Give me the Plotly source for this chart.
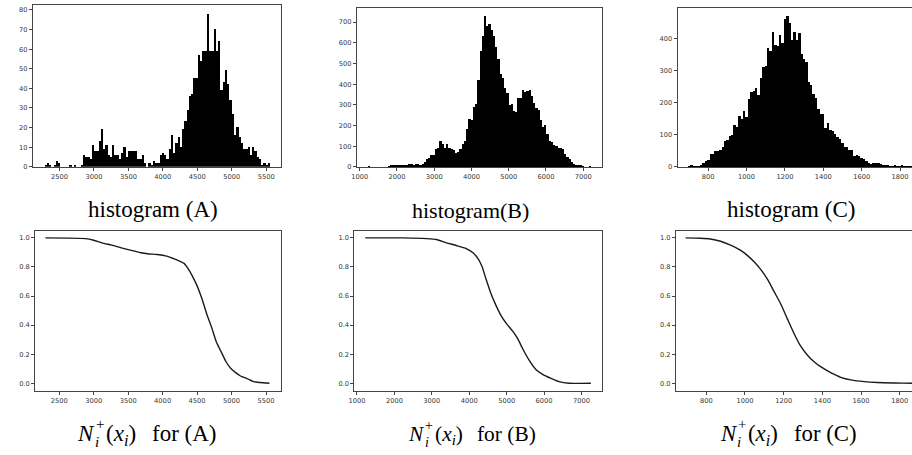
import numpy as np
import plotly.graph_objects as go

# ---------------- data ----------------
# histogram (A): 100 bins between hist_a_min and hist_a_max
hist_a_min, hist_a_max = 2279, 5554
hist_a_counts = [1, 2, 1, 0, 1, 3, 2, 0, 0, 0,
                 0, 1, 0, 1, 0, 0, 1, 6, 5, 5,
                 4, 11, 8, 8, 13, 19, 9, 11, 6, 5,
                 11, 6, 6, 4, 7, 10, 5, 8, 8, 8,
                 8, 4, 4, 6, 2, 0, 2, 1, 3, 2,
                 2, 6, 7, 6, 4, 9, 16, 7, 12, 15,
                 10, 19, 23, 29, 36, 37, 45, 45, 57, 54,
                 59, 59, 78, 59, 59, 70, 59, 64, 39, 43,
                 49, 42, 34, 27, 16, 20, 15, 12, 9, 9,
                 10, 6, 10, 8, 5, 4, 1, 2, 1, 2]

# histogram (B)
hist_b_min, hist_b_max = 1225, 7210
hist_b_counts = [1, 0, 0, 0, 0, 0, 0, 0, 0, 3,
                 5, 8, 4, 4, 6, 5, 4, 10, 12, 11,
                 9, 14, 13, 10, 12, 25, 38, 40, 55, 58,
                 85, 90, 122, 110, 88, 108, 88, 85, 82, 65,
                 72, 85, 110, 125, 180, 230, 225, 290, 305, 420,
                 560, 630, 730, 680, 690, 660, 630, 580, 520, 450,
                 430, 380, 355, 300, 305, 270, 265, 330, 330, 370,
                 360, 365, 370, 340, 310, 285, 275, 225, 190, 200,
                 160, 125, 120, 105, 98, 90, 88, 85, 60, 45,
                 35, 22, 15, 10, 9, 8, 1, 0, 0, 1]

# histogram (C)
hist_c_min, hist_c_max = 693, 1940
hist_c_counts = [2, 3, 2, 2, 2, 3, 12, 18, 22, 38,
                 40, 50, 50, 52, 62, 80, 82, 95, 100, 130,
                 125, 158, 150, 172, 155, 210, 232, 235, 245, 222,
                 275, 310, 312, 370, 360, 420, 380, 375, 410, 385,
                 460, 470, 448, 395, 420, 395, 415, 350, 335, 325,
                 265, 255, 225, 215, 180, 165, 165, 120, 135, 115,
                 110, 102, 92, 85, 75, 62, 62, 52, 52, 33,
                 37, 33, 28, 25, 18, 11, 8, 10, 12, 11,
                 8, 6, 4, 3, 2, 1, 3, 2, 1, 3,
                 2, 1, 1, 1, 0, 1, 0, 0, 0, 1]

# N_i^+(x_i) curves
curve_a_x = [2300, 2880, 3000, 3118, 3260, 3400, 3545, 3685, 3780, 3920,
             4060, 4150, 4245, 4315, 4360, 4430, 4500, 4572, 4640, 4710,
             4780, 4850, 4920, 4990, 5060, 5130, 5225, 5320, 5410, 5550]
curve_a_y = [1.0, 0.995, 0.984, 0.966, 0.95, 0.932, 0.914, 0.898, 0.891, 0.886,
             0.875, 0.859, 0.84, 0.823, 0.795, 0.739, 0.67, 0.58, 0.477, 0.386,
             0.284, 0.216, 0.148, 0.102, 0.073, 0.05, 0.032, 0.011, 0.005, 0.0]

curve_b_x = [1221, 2240, 2860, 3125, 3390, 3655, 3920, 4100, 4230, 4336,
             4450, 4585, 4717, 4850, 5000, 5160, 5295, 5425, 5600, 5780,
             5960, 6180, 6400, 6665, 7250]
curve_b_y = [1.0, 1.0, 0.995, 0.989, 0.966, 0.948, 0.927, 0.898, 0.859, 0.807,
             0.716, 0.614, 0.534, 0.466, 0.409, 0.359, 0.307, 0.239, 0.159, 0.095,
             0.061, 0.034, 0.011, 0.0, 0.0]

curve_c_x = [693, 771, 822, 874, 926, 978, 1012, 1047, 1081, 1116,
             1150, 1185, 1219, 1254, 1288, 1323, 1357, 1391, 1443, 1495,
             1547, 1616, 1684, 1770, 1867, 1940]
curve_c_y = [1.0, 0.998, 0.993, 0.977, 0.95, 0.914, 0.88, 0.836, 0.784, 0.716,
             0.632, 0.545, 0.443, 0.341, 0.255, 0.193, 0.148, 0.114, 0.073, 0.041,
             0.023, 0.011, 0.005, 0.002, 0.0, 0.0]

top_titles = ["histogram (A)", "histogram(B)", "histogram (C)"]
bottom_labels = ["(A)", "(B)", "(C)"]

# ---------------- figure ----------------
W, H = 912, 455


def fx(px):
    return px / W


def fy(py):
    return 1 - py / H


fig = go.Figure()

line_col = "#444444"
tick_font = dict(family="DejaVu Sans", size=6.7, color="#333333")

panels_top = [
    (hist_a_min, hist_a_max, hist_a_counts, (27, 277.3), (5.3, 168.3), [2112, 5722], [0, 82.4], 10, 500),
    (hist_b_min, hist_b_max, hist_b_counts, (353.3, 600), (8.3, 168.4), [928, 7507], [0, 767], 100, 1000),
    (hist_c_min, hist_c_max, hist_c_counts, (676, 912), (8.3, 168.4), [641, 1862], [0, 494], 100, 200),
]
panels_bot = [
    (curve_a_x, curve_a_y, (29.3, 277), [2150, 5720], 500),
    (curve_b_x, curve_b_y, (350.7, 600), [931, 7549], 1000),
    (curve_c_x, curve_c_y, (674.3, 912), [643, 1863], 200),
]


def axis_common():
    return dict(showline=True, linecolor=line_col, linewidth=1, mirror=True,
                ticks="outside", ticklen=3, tickwidth=0.8, tickcolor=line_col,
                tickfont=tick_font, showgrid=False, zeroline=False, fixedrange=True,
                ticklabeloverflow="allow")


n = 1
for k, (mn, mx, counts, xpx, ypx, xr, yr, ydt, xdt) in enumerate(panels_top):
    edges = np.linspace(mn, mx, len(counts) + 1)
    centers = (edges[:-1] + edges[1:]) / 2
    widths = np.diff(edges)
    xa = "x" if n == 1 else f"x{n}"
    ya = "y" if n == 1 else f"y{n}"
    fig.add_trace(go.Bar(x=centers, y=counts, width=widths, marker=dict(color="black", line=dict(width=0)),
                         xaxis=xa, yaxis=ya, showlegend=False))
    xaxis = axis_common()
    xaxis.update(domain=[fx(xpx[0]), fx(xpx[1])], range=xr, dtick=xdt, tick0=0, anchor=ya)
    yaxis = axis_common()
    yaxis.update(domain=[fy(ypx[1]), fy(ypx[0])], range=yr, dtick=ydt, tick0=0, anchor=xa)
    if k == 2:
        yaxis["mirror"] = False
    fig.layout[("xaxis" if n == 1 else f"xaxis{n}")] = xaxis
    fig.layout[("yaxis" if n == 1 else f"yaxis{n}")] = yaxis
    n += 1

for k, (cx, cy, xpx, xr, xdt) in enumerate(panels_bot):
    xa = f"x{n}"
    ya = f"y{n}"
    fig.add_trace(go.Scatter(x=cx, y=cy, mode="lines",
                             line=dict(color="#1a1a1a", width=1.4, shape="spline", smoothing=0.6),
                             xaxis=xa, yaxis=ya, showlegend=False))
    xaxis = axis_common()
    xaxis.update(domain=[fx(xpx[0]), fx(xpx[1])], range=xr, dtick=xdt, tick0=0, anchor=ya)
    yaxis = axis_common()
    yaxis.update(domain=[fy(394), fy(232.7)], range=[-0.05, 1.05], dtick=0.2, tick0=0,
                 tickformat=".1f", anchor=xa)
    if k == 2:
        yaxis["mirror"] = False
    fig.layout[f"xaxis{n}"] = xaxis
    fig.layout[f"yaxis{n}"] = yaxis
    n += 1

SERIF = "Liberation Serif"


def put(text, xp, yp_top, size, xanchor="left"):
    fig.add_annotation(text=text, x=fx(xp), y=fy(yp_top), xref="paper", yref="paper",
                       showarrow=False, xanchor=xanchor, yanchor="top",
                       borderpad=0, borderwidth=0,
                       font=dict(family=SERIF, size=size, color="black"))


# top captions: (centre x, size)
top_caps = [(147.5, 23), (467.3, 22), (790, 23)]
cap_baseline = 219.3
for t, (cxp, sz) in zip(top_titles, top_caps):
    put(t, cxp, cap_baseline - 0.891 * sz, sz, xanchor="center")

# bottom captions: (left x, scale)
bot_caps = [(73.3, 1.0), (406, 0.93), (720, 0.99)]
base = 445.0
for lab, (L, s) in zip(bottom_labels, bot_caps):
    big = 23 * s
    small = 15 * s
    put("<i>N</i>", L + 16.7 * s, base - 0.891 * big, big, xanchor="right")
    put("+", L + 17.0 * s, base - 12.2 * s - 0.891 * small, small)
    put("<i>i</i>", L + 16.5 * s, base + 6.5 * s - 0.891 * small, small)
    put("(<i>x</i><sub><i>i</i></sub>)", L + 42.6 * s, base - 0.891 * big, big, xanchor="center")
    put("for " + lab, L + 73.7 * s, base - 0.891 * big, big)

fig.update_layout(width=W, height=H, margin=dict(l=0, r=0, t=0, b=0),
                  paper_bgcolor="white", plot_bgcolor="white", bargap=0)

fig.write_html("out.html", config={"displayModeBar": False},
               post_script="document.body.style.margin='0';document.body.style.overflow='hidden';")
